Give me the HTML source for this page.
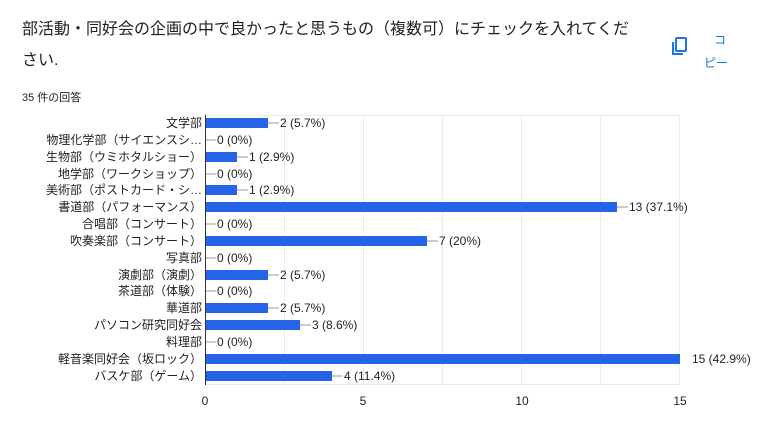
<!DOCTYPE html>
<html><head><meta charset="utf-8"><style>
body{margin:0;background:#fff;width:763px;height:432px;overflow:hidden;font-family:"Liberation Sans","Noto Sans CJK JP",sans-serif;}
</style></head><body>
<svg width="763" height="432" xmlns="http://www.w3.org/2000/svg" font-family="Liberation Sans, Noto Sans CJK JP, sans-serif">
<text x="22" y="34" font-size="16" fill="#202124">部活動・同好会の企画の中で良かったと思うもの（複数可）にチェックを入れてくだ</text>
<text x="22" y="65" font-size="16" fill="#202124">さい.</text>
<text x="22" y="101" font-size="11" fill="#202124">35 件の回答</text>
<g fill="none" stroke="#1a73e8" stroke-width="2"><rect x="676" y="38" width="10" height="13" rx="1"/><path d="M673 42v12h10"/></g>
<text x="714" y="44" font-size="12" fill="#1a73e8">コ</text>
<text x="704" y="67" font-size="12" fill="#1a73e8">ピー</text>
<g stroke="#ebebeb" stroke-width="1">
<line x1="284.5" y1="115" x2="284.5" y2="384"/><line x1="363.5" y1="115" x2="363.5" y2="384"/><line x1="442.5" y1="115" x2="442.5" y2="384"/><line x1="521.5" y1="115" x2="521.5" y2="384"/><line x1="600.5" y1="115" x2="600.5" y2="384"/><line x1="679.5" y1="115" x2="679.5" y2="384"/>
<line x1="205" y1="115.5" x2="680" y2="115.5"/><line x1="205" y1="384.5" x2="680" y2="384.5"/>
</g>
<g font-size="12" fill="#222">
<g text-anchor="end">
<text x="202" y="127">文学部</text>
<text x="202" y="144">物理化学部（サイエンスシ…</text>
<text x="202" y="161">生物部（ウミホタルショー）</text>
<text x="202" y="178">地学部（ワークショップ）</text>
<text x="202" y="194">美術部（ポストカード・シ…</text>
<text x="202" y="211">書道部（パフォーマンス）</text>
<text x="202" y="228">合唱部（コンサート）</text>
<text x="202" y="245">吹奏楽部（コンサート）</text>
<text x="202" y="262">写真部</text>
<text x="202" y="279">演劇部（演劇）</text>
<text x="202" y="295">茶道部（体験）</text>
<text x="202" y="312">華道部</text>
<text x="202" y="329">パソコン研究同好会</text>
<text x="202" y="346">料理部</text>
<text x="202" y="363">軽音楽同好会（坂ロック）</text>
<text x="202" y="380">バスケ部（ゲーム）</text>
</g>
<g fill="#2563e8">
<rect x="205" y="118" width="63" height="10"/>
<rect x="205" y="152" width="32" height="10"/>
<rect x="205" y="185" width="32" height="10"/>
<rect x="205" y="202" width="412" height="10"/>
<rect x="205" y="236" width="222" height="10"/>
<rect x="205" y="270" width="63" height="10"/>
<rect x="205" y="303" width="63" height="10"/>
<rect x="205" y="320" width="95" height="10"/>
<rect x="205" y="354" width="475" height="10"/>
<rect x="205" y="371" width="127" height="10"/>
</g>
<g stroke="#999" stroke-width="1">
<line x1="268" y1="123" x2="279" y2="123"/><line x1="205" y1="140" x2="216" y2="140"/><line x1="237" y1="157" x2="248" y2="157"/><line x1="205" y1="174" x2="216" y2="174"/><line x1="237" y1="190" x2="248" y2="190"/><line x1="617" y1="207" x2="628" y2="207"/><line x1="205" y1="224" x2="216" y2="224"/><line x1="427" y1="241" x2="438" y2="241"/><line x1="205" y1="258" x2="216" y2="258"/><line x1="268" y1="275" x2="279" y2="275"/><line x1="205" y1="291" x2="216" y2="291"/><line x1="268" y1="308" x2="279" y2="308"/><line x1="300" y1="325" x2="311" y2="325"/><line x1="205" y1="342" x2="216" y2="342"/><line x1="332" y1="376" x2="343" y2="376"/>
</g>
<text x="280" y="127">2 (5.7%)</text>
<text x="217" y="144">0 (0%)</text>
<text x="249" y="161">1 (2.9%)</text>
<text x="217" y="178">0 (0%)</text>
<text x="249" y="194">1 (2.9%)</text>
<text x="629" y="211">13 (37.1%)</text>
<text x="217" y="228">0 (0%)</text>
<text x="439" y="245">7 (20%)</text>
<text x="217" y="262">0 (0%)</text>
<text x="280" y="279">2 (5.7%)</text>
<text x="217" y="295">0 (0%)</text>
<text x="280" y="312">2 (5.7%)</text>
<text x="312" y="329">3 (8.6%)</text>
<text x="217" y="346">0 (0%)</text>
<text x="692" y="363">15 (42.9%)</text>
<text x="344" y="380">4 (11.4%)</text>
<g text-anchor="middle">
<text x="205" y="405">0</text><text x="363" y="405">5</text><text x="522" y="405">10</text><text x="680" y="405">15</text>
</g>
</g>
<line x1="205.5" y1="115" x2="205.5" y2="385" stroke="#333" stroke-width="1"/>
</svg>
</body></html>
